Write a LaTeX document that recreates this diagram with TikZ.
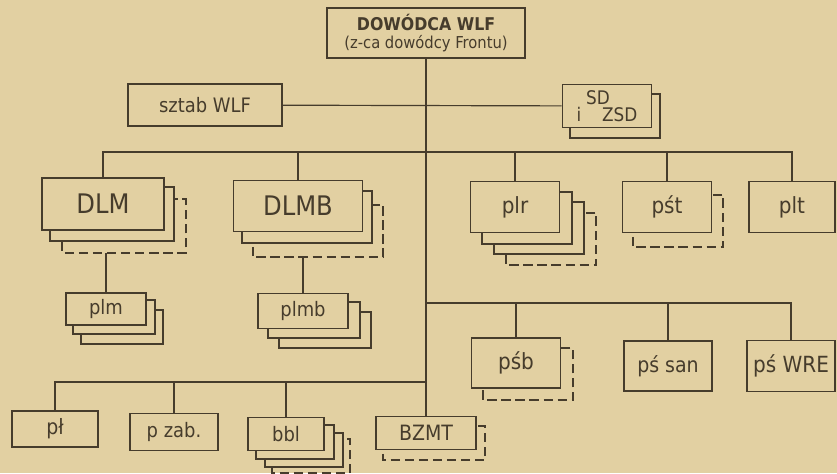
\documentclass[tikz,border=0pt]{standalone}
\usepackage{fontspec}
\setmainfont{DejaVu Sans Condensed}
\usepackage{xcolor}
\usetikzlibrary{positioning}

\definecolor{paper}{RGB}{226,208,162}
\definecolor{ink}{RGB}{70,60,44}

\pgfdeclarelayer{sheet}
\pgfdeclarelayer{wires}
\pgfdeclarelayer{under}
\pgfsetlayers{sheet,wires,under,main}

% copies stacked behind a box: dx/dy/style, farthest first
\newcommand{\behind}[2]{%
  \begin{pgfonlayer}{under}
  \foreach \dx/\dy/\st in {#2}
    \draw[copy, \st] ([shift={(\dx,\dy)}]#1.north west)
      rectangle ([shift={(\dx,\dy)}]#1.south east);
  \end{pgfonlayer}}

\begin{document}
\begin{tikzpicture}[
  x=0.03cm, y=-0.03cm,
  box/.style={draw=ink, fill=paper, line width=1.4pt, inner sep=1pt,
              text=ink, align=center},
  wh/.style 2 args={minimum width=#1*0.03cm, minimum height=#2*0.03cm},
  txt/.style={font=\fontsize{#1}{#1}\selectfont},
  copy/.style={draw=ink, fill=paper, line width=1.5pt},
  gap/.style={dash pattern=on 8pt off 4pt},
  wire/.style={draw=ink, line width=1pt}
]

\begin{pgfonlayer}{sheet}
  \fill[paper] (0,0) rectangle (837,473);
\end{pgfonlayer}
\useasboundingbox (0,0) rectangle (837,473);

%% Command
\node[box, wh={198}{50}, font=\fontsize{14}{15}\selectfont] (wlf) at (426,33)
  {\fontsize{15}{15}\selectfont\bfseries DOWÓDCA WLF\\(z-ca dowódcy Frontu)};
\node[box, wh={154}{42}, txt=17] (sztab) at (205,105) {sztab WLF};
\node[box, wh={89}{43}, align=left, font=\fontsize{16}{15}\selectfont] (sd) at (607,106)
  {\hspace*{0.5em}SD\\i\hspace{1.1em}ZSD};

%% Second row
\node[box, wh={122}{52}, txt=23] (dlm)  at (103,204) {DLM};
\node[box, wh={129}{51}, txt=23] (dlmb) at (298,206) {DLMB};
\node[box, wh={89}{51}, txt=19]  (plr)  at (515,207) {plr};
\node[box, wh={89}{51}, txt=19]  (pst)  at (667,207) {pśt};
\node[box, wh={86}{51}, txt=19]  (plt)  at (792,207) {plt};

\node[box, wh={80}{32}, txt=17] (plm)  at (106,309) {plm};
\node[box, wh={90}{35}, txt=17] (plmb) at (303,311) {plmb};

%% Third row
\node[box, wh={89}{50}, txt=19] (psb)   at (516,363) {pśb};
\node[box, wh={88}{50}, txt=18] (pssan) at (668,366) {pś san};
\node[box, wh={88}{51}, txt=19] (pswre) at (791,366) {pś WRE};

%% Bottom row
\node[box, wh={86}{36}, txt=18] (pl)   at (55,429)  {pł};
\node[box, wh={88}{37}, txt=17] (pzab) at (174,432) {p zab.};
\node[box, wh={76}{33}, txt=17] (bbl)  at (286,434) {bbl};
\node[box, wh={100}{33}, txt=18] (bzmt) at (426,433) {BZMT};

%% Stacked copies
\behind{sd}{8/10/solid}
\behind{dlm}{21/22/gap, 9/10/solid}
\behind{dlmb}{20/25/gap, 9/11/solid}
\behind{plm}{16/18/solid, 8/8/solid}
\behind{plmb}{22/19/solid, 11/9/solid}
\behind{plr}{36/32/gap, 24/21/solid, 12/11/solid}
\behind{pst}{11/14/gap}
\behind{psb}{12/11/gap}
\behind{bbl}{25/22/gap, 18/16/solid, 9/8/solid}
\behind{bzmt}{8/10/gap}

%% Connectors
\begin{pgfonlayer}{wires}
  \coordinate (bus2) at (426,152);
  \coordinate (bus3) at (426,303);
  \coordinate (bus4) at (426,382);
  \draw[wire] (wlf.south) -- (bzmt.north);
  \draw[wire] (sztab) -- (sd);
  \draw[wire] (dlm.north) |- (bus2) -| (plt.north);
  \foreach \n in {dlmb, plr, pst}
    \draw[wire] (\n.north) -- (\n.north |- bus2);
  \draw[wire] (plm.north) -- (plm.north |- dlm.south);
  \draw[wire] (plmb.north) -- (plmb.north |- dlmb.south);
  \draw[wire] (bus3) -| (pswre.north);
  \foreach \n in {psb, pssan}
    \draw[wire] (\n.north) -- (\n.north |- bus3);
  \draw[wire] (bus4) -| (pl.north);
  \foreach \n in {pzab, bbl}
    \draw[wire] (\n.north) -- (\n.north |- bus4);
\end{pgfonlayer}

\end{tikzpicture}
\end{document}
